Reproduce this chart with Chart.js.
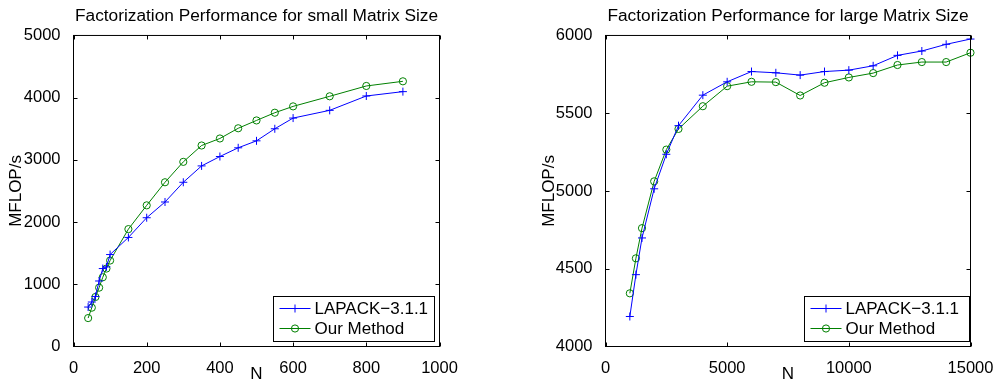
<!DOCTYPE html>
<html>
<head>
<meta charset="utf-8">
<script src="https://cdn.jsdelivr.net/npm/chart.js@4.4.0/dist/chart.umd.min.js"></script>
<style>
  html, body { margin: 0; padding: 0; background: #fff; }
  body { width: 998px; height: 383px; position: relative; overflow: hidden; }
  canvas { position: absolute; top: 0; }
  #smallChart { left: 0; }
  #largeChart { left: 499px; }
</style>
</head>
<body>
<canvas id="smallChart" width="499" height="383"></canvas>
<canvas id="largeChart" width="499" height="383"></canvas>
<script>
// small matrix sizes
const nSmall = [40, 50, 60, 70, 80, 90, 100, 150, 200, 250, 300, 350, 400, 450, 500, 550, 600, 700, 800, 900];
const lapackSmall = [634, 715, 805, 1053, 1253, 1280, 1478, 1753, 2070, 2323, 2640, 2903, 3054, 3194, 3306, 3500, 3672, 3796, 4027, 4097];
const oursSmall = [457, 624, 796, 946, 1113, 1253, 1382, 1887, 2269, 2640, 2968, 3231, 3344, 3508, 3634, 3758, 3860, 4022, 4188, 4263];

// large matrix sizes
const nLarge = [1000, 1250, 1500, 2000, 2500, 3000, 4000, 5000, 6000, 7000, 8000, 9000, 10000, 11000, 12000, 13000, 14000, 15000];
const lapackLarge = [4193, 4462, 4698, 5014, 5236, 5420, 5616, 5702, 5768, 5760, 5745, 5768, 5777, 5805, 5872, 5900, 5943, 5977];
const oursLarge = [4342, 4567, 4761, 5062, 5266, 5399, 5545, 5674, 5702, 5700, 5614, 5696, 5730, 5758, 5810, 5829, 5829, 5889];

const seriesNames = ['LAPACK\u22123.1.1', 'Our Method'];
const titles = ['Factorization Performance for small Matrix Size', 'Factorization Performance for large Matrix Size'];

const FONT = "'Liberation Sans', Arial, Helvetica, sans-serif";
Chart.defaults.color = '#000';
Chart.defaults.font.family = FONT;

function pts(xs, ys) {
    return xs.map((x, i) => ({x: x, y: ys[i]}));
}

// matlab style box with inward ticks
const boxFrame = {
    id: 'boxFrame',
    afterDatasetsDraw(chart) {
        const ctx = chart.ctx;
        const a = chart.chartArea;
        const xs = chart.scales.x, ys = chart.scales.y;
        const len = 4;
        ctx.save();
        ctx.strokeStyle = '#000';
        ctx.lineWidth = 1;
        ctx.beginPath();
        xs.ticks.forEach(t => {
            const px = Math.round(xs.getPixelForValue(t.value)) + 0.5;
            ctx.moveTo(px, a.bottom); ctx.lineTo(px, a.bottom - len);
            ctx.moveTo(px, a.top); ctx.lineTo(px, a.top + len);
        });
        ys.ticks.forEach(t => {
            const py = Math.round(ys.getPixelForValue(t.value)) + 0.5;
            ctx.moveTo(a.left, py); ctx.lineTo(a.left + len, py);
            ctx.moveTo(a.right, py); ctx.lineTo(a.right - len, py);
        });
        ctx.stroke();
        ctx.strokeRect(a.left, a.top, a.right - a.left, a.bottom - a.top);
        ctx.restore();
    }
};

// legend box drawn inside the plot, lower right
const boxLegend = {
    id: 'boxLegend',
    afterDraw(chart, args, opts) {
        const ctx = chart.ctx;
        const a = chart.chartArea;
        const w = opts.width, h = 45;
        const left = a.right - opts.gap - w;
        const top = a.bottom - 5 - h;
        ctx.save();
        ctx.fillStyle = '#fff';
        ctx.fillRect(left, top, w, h);
        ctx.strokeStyle = '#000';
        ctx.lineWidth = 1;
        ctx.strokeRect(Math.round(left) + 0.5, Math.round(top) + 0.5, w, h);
        chart.data.datasets.forEach((ds, i) => {
            const y = top + 12 + i * 20;
            ctx.strokeStyle = ds.borderColor;
            ctx.lineWidth = 1;
            ctx.beginPath();
            ctx.moveTo(left + 7, y);
            ctx.lineTo(left + 38, y);
            ctx.stroke();
            ctx.fillStyle = 'rgba(0,0,0,0)';
            Chart.helpers.drawPoint(ctx, {
                pointStyle: ds.pointStyle, radius: ds.pointRadius, rotation: 0, borderWidth: 1
            }, left + 22.5, y);
            ctx.fillStyle = '#000';
            ctx.font = '17px ' + FONT;
            ctx.textBaseline = 'middle';
            ctx.fillText(ds.label, left + 42, y + 1);
        });
        ctx.restore();
    }
};

function makeChart(id, cfg) {
    const datasets = [
        {
            label: seriesNames[0],
            data: pts(cfg.n, cfg.lapack),
            borderColor: '#0000ff',
            backgroundColor: '#0000ff',
            borderWidth: 1,
            pointStyle: 'cross',
            pointRadius: 4,
            pointBorderWidth: 1,
            pointBorderColor: '#0000ff',
            clip: false
        },
        {
            label: seriesNames[1],
            data: pts(cfg.n, cfg.ours),
            borderColor: '#008000',
            backgroundColor: 'rgba(0,0,0,0)',
            borderWidth: 1,
            pointStyle: 'circle',
            pointRadius: 3.6,
            pointBorderWidth: 1,
            pointBorderColor: '#008000',
            pointBackgroundColor: 'rgba(0,0,0,0)',
            clip: false
        }
    ];
    return new Chart(id, {
        type: 'line',
        data: {datasets},
        plugins: [boxFrame, boxLegend],
        options: {
            responsive: false,
            animation: false,
            devicePixelRatio: 1,
            layout: {padding: {left: 0, right: cfg.padRight, top: 0, bottom: 0}},
            plugins: {
                legend: {display: false},
                tooltip: {enabled: false},
                title: {
                    display: true,
                    text: cfg.title,
                    fullSize: false,
                    color: '#000',
                    font: {size: 17.3, weight: 'normal', family: FONT},
                    padding: {top: 6, bottom: 8.7}
                },
                boxLegend: {width: cfg.legendW, gap: cfg.legendGap}
            },
            scales: {
                x: {
                    type: 'linear',
                    min: cfg.xMin, max: cfg.xMax,
                    grid: {display: false},
                    border: {display: false},
                    ticks: {
                        stepSize: cfg.xStep,
                        padding: 4,
                        maxRotation: 0,
                        font: {size: 16.5},
                        callback: v => String(v)
                    },
                    title: {display: true, text: 'N', font: {size: 17, lineHeight: 1}, padding: 0},
                    afterFit: s => { s.height = 36.5; }
                },
                y: {
                    type: 'linear',
                    min: cfg.yMin, max: cfg.yMax,
                    grid: {display: false},
                    border: {display: false},
                    ticks: {
                        stepSize: cfg.yStep,
                        padding: 5,
                        font: {size: 16.5},
                        callback: v => String(v)
                    },
                    title: {display: true, text: 'MFLOP/s', font: {size: 17, lineHeight: 1}, padding: cfg.yTitlePad},
                    afterFit: s => { s.width = cfg.yWidth; }
                }
            }
        }
    });
}

makeChart('smallChart', {
    title: titles[0],
    n: nSmall, lapack: lapackSmall, ours: oursSmall,
    xMin: 0, xMax: 1000, xStep: 200,
    yMin: 0, yMax: 5000, yStep: 1000,
    yWidth: 73.5, yTitlePad: 7.5, padRight: 59.5,
    legendW: 161, legendGap: 6
});

makeChart('largeChart', {
    title: titles[1],
    n: nLarge, lapack: lapackLarge, ours: oursLarge,
    xMin: 0, xMax: 15000, xStep: 5000,
    yMin: 4000, yMax: 6000, yStep: 500,
    yWidth: 106.5, yTitlePad: 41.5, padRight: 27.5,
    legendW: 165, legendGap: 2
});
</script>
</body>
</html>
